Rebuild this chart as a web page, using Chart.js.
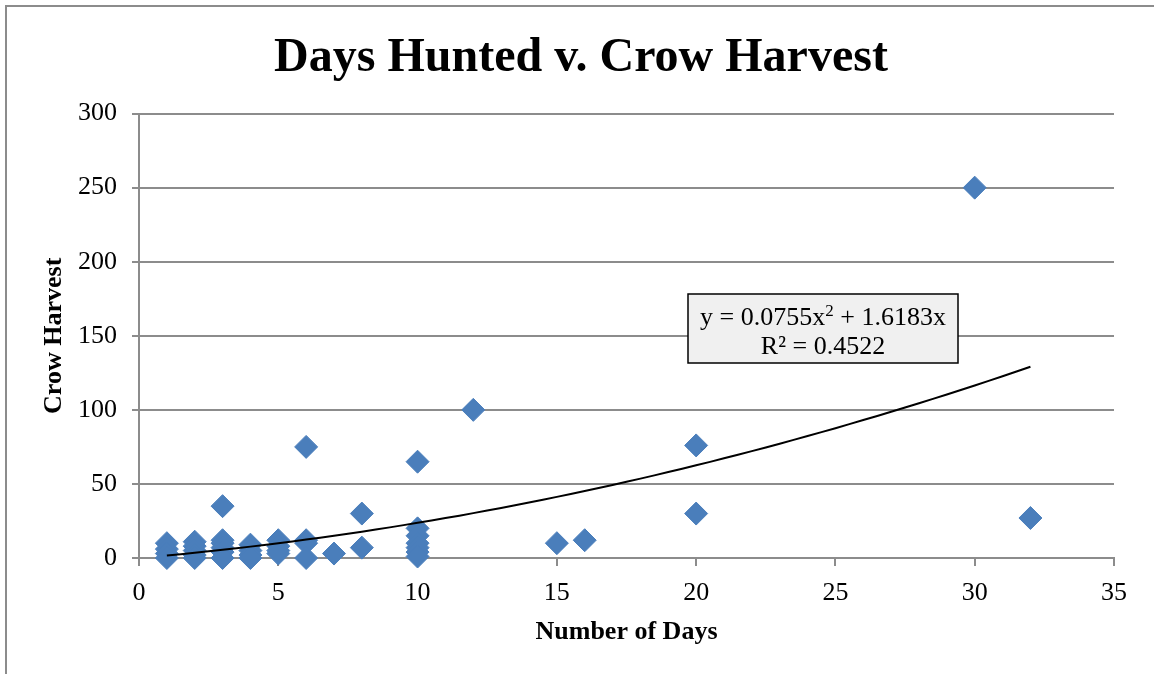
<!DOCTYPE html>
<html>
<head>
<meta charset="utf-8">
<title>Days Hunted v. Crow Harvest</title>
<script src="https://cdn.jsdelivr.net/npm/chart.js@4/dist/chart.umd.min.js"></script>
<style>
    html, body { margin: 0; padding: 0; background: #fff; }
    #wrap { width: 1154px; height: 674px; position: relative; }
</style>
</head>
<body>
<div id="wrap"><canvas id="crowChart"></canvas></div>
<script>
// days hunted per hunter and the crows taken
const daysHunted = [
    1, 1, 1, 1,
    2, 2, 2, 2, 2,
    3, 3, 3, 3, 3, 3,
    4, 4, 4, 4,
    5, 5, 5, 5,
    6, 6, 6, 6,
    7,
    8, 8,
    10, 10, 10, 10, 10, 10, 10,
    12, 15, 16,
    20, 20,
    30, 32
];
const crowHarvest = [
    10, 6, 3, 0,
    11, 8, 5, 2, 0,
    35, 12, 10, 7, 4, 0,
    9, 5, 2, 0,
    12, 8, 5, 3,
    75, 12, 10, 0,
    3,
    30, 7,
    65, 20, 15, 10, 7, 4, 1,
    100, 10, 12,
    76, 30,
    250, 27
];

// polynomial trendline as printed on the chart (order 2, intercept 0)
const trendA = 0.0755;
const trendB = 1.6183;
const trendR2 = 0.4522;
const trendFrom = 1;
const trendTo = 32;

const xTicks = [0, 5, 10, 15, 20, 25, 30, 35];
const yTicks = [0, 50, 100, 150, 200, 250, 300];

const scatterPoints = daysHunted.map((d, i) => ({ x: d, y: crowHarvest[i] }));
const trendPoints = [];
for (let x = trendFrom; x <= trendTo; x += 0.5) {
    trendPoints.push({ x: x, y: trendA * x * x + trendB * x });
}

const serif = "'Liberation Serif', 'Times New Roman', serif";
const gridGray = '#8c8c8c';

// outer frame of the chart object
const framePlugin = {
    id: 'frame',
    beforeDraw(chart) {
        const ctx = chart.ctx;
        ctx.save();
        ctx.strokeStyle = '#8c8c8c';
        ctx.lineWidth = 2;
        ctx.beginPath();
        ctx.moveTo(6, chart.height + 2);
        ctx.lineTo(6, 6);
        ctx.lineTo(chart.width + 2, 6);
        ctx.stroke();
        ctx.restore();
    }
};

// equation label of the trendline
const trendLabelPlugin = {
    id: 'trendLabel',
    afterDatasetsDraw(chart) {
        const ctx = chart.ctx;
        const bx = 688, by = 294, bw = 270, bh = 69;
        ctx.save();
        ctx.fillStyle = '#f0f0f0';
        ctx.fillRect(bx, by, bw, bh);
        ctx.strokeStyle = '#000';
        ctx.lineWidth = 1.5;
        ctx.strokeRect(bx, by, bw, bh);

        const cx = bx + bw / 2;
        ctx.fillStyle = '#000';
        ctx.textBaseline = 'alphabetic';
        const big = '26px ' + serif;
        const small = '17px ' + serif;
        const a = 'y = ' + trendA + 'x';
        const b = ' + ' + trendB + 'x';
        ctx.font = big;
        const wa = ctx.measureText(a).width;
        const wb = ctx.measureText(b).width;
        ctx.font = small;
        const ws = ctx.measureText('2').width;
        let x0 = cx - (wa + ws + wb) / 2;
        const base1 = by + 31;
        ctx.textAlign = 'left';
        ctx.font = big;
        ctx.fillText(a, x0, base1);
        ctx.font = small;
        ctx.fillText('2', x0 + wa, base1 - 9);
        ctx.font = big;
        ctx.fillText(b, x0 + wa + ws, base1);

        ctx.textAlign = 'center';
        ctx.fillText('R\u00b2 = ' + trendR2, cx, by + 60);
        ctx.restore();
    }
};

new Chart(document.getElementById('crowChart'), {
    type: 'scatter',
    data: {
        datasets: [{
                type: 'line',
                label: 'Poly. trend',
                data: trendPoints,
                borderColor: '#000',
                borderWidth: 2,
                pointRadius: 0,
                tension: 0,
                fill: false,
            },
            {
                label: 'Crow Harvest',
                data: scatterPoints,
                clip: false,
                pointStyle: 'rectRot',
                pointRadius: 11.5,
                pointHoverRadius: 11.5,
                backgroundColor: '#4a7ebb',
                borderColor: '#4a7ebb',
                borderWidth: 1,
            },
        ],
    },
    options: {
        responsive: true,
        maintainAspectRatio: false,
        animation: false,
        layout: {
            padding: { left: 48, right: 40, top: 0, bottom: 0 }
        },
        plugins: {
            legend: { display: false },
            tooltip: { enabled: false },
            title: {
                display: true,
                text: 'Days Hunted v. Crow Harvest',
                color: '#000',
                font: { family: serif, size: 48, weight: 'bold', lineHeight: 1.2 },
                padding: { top: 30, bottom: 26 }
            },
        },
        scales: {
            x: {
                type: 'linear',
                min: 0,
                max: 35,
                afterBuildTicks(scale) {
                    scale.ticks = xTicks.map(v => ({ value: v }));
                },
                afterFit(scale) {
                    scale.height = 116;
                },
                grid: {
                    drawOnChartArea: false,
                    color: gridGray,
                    lineWidth: 2,
                    tickLength: 8,
                },
                border: { color: gridGray, width: 2 },
                ticks: {
                    color: '#000',
                    padding: 12,
                    maxRotation: 0,
                    font: { family: serif, size: 26 }
                },
                title: {
                    display: true,
                    text: 'Number of Days',
                    color: '#000',
                    font: { family: serif, size: 26, weight: 'bold', lineHeight: 1.2 },
                    padding: { top: 0, bottom: 26 }
                }
            },
            y: {
                min: 0,
                max: 300,
                afterBuildTicks(scale) {
                    scale.ticks = yTicks.map(v => ({ value: v }));
                },
                afterFit(scale) {
                    scale.width = 91;
                },
                grid: {
                    color: gridGray,
                    lineWidth: 2,
                    tickLength: 7,
                },
                border: { color: gridGray, width: 2 },
                ticks: {
                    color: '#000',
                    padding: 15,
                    font: { family: serif, size: 26 }
                },
                title: {
                    display: true,
                    text: 'Crow Harvest',
                    color: '#000',
                    font: { family: serif, size: 26, weight: 'bold', lineHeight: 1.2 },
                    padding: { top: -9, bottom: 0 }
                }
            }
        }
    },
    plugins: [framePlugin, trendLabelPlugin]
});
</script>
</body>
</html>
